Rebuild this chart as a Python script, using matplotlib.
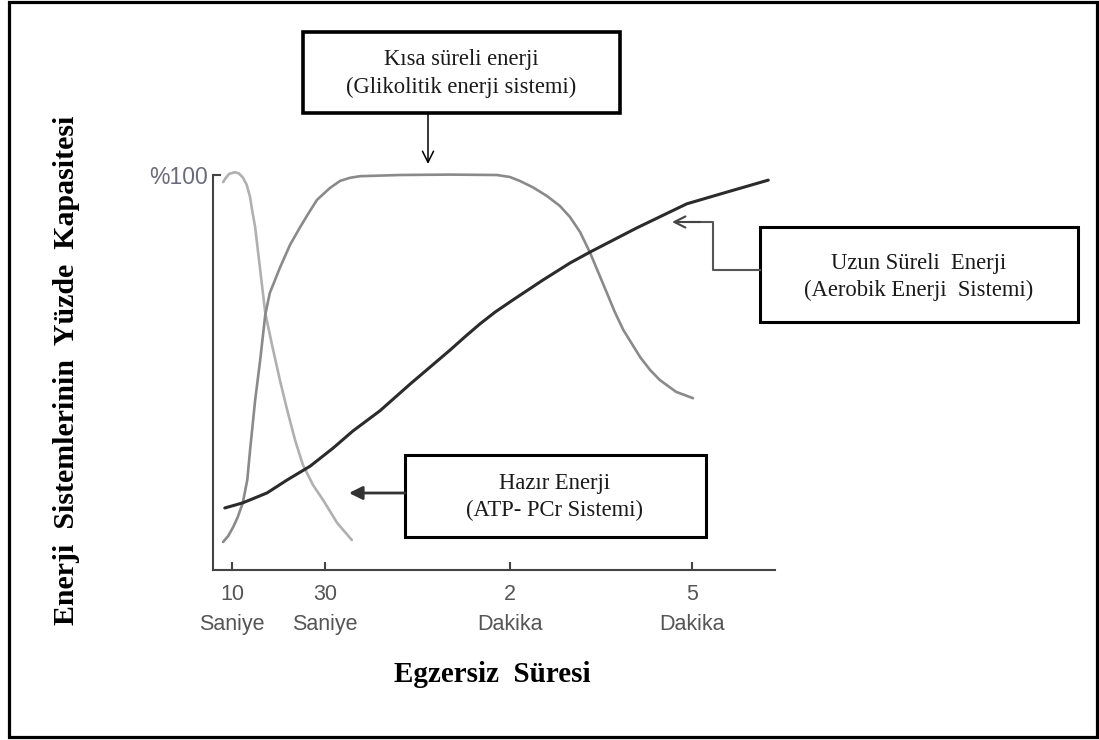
import matplotlib
matplotlib.use('Agg')
import matplotlib.pyplot as plt
from matplotlib.patches import Rectangle

# x: zaman ekseni boyunca konum (0-100), y: yuzde kapasite
atp_x = [1.8, 2.3, 2.9, 3.9, 4.6, 5.3, 6.0, 6.6, 6.9, 7.5, 8.4, 9.3, 10.5, 11.9, 13.2, 14.6, 16.0, 17.8, 19.6, 22.1, 24.7]
atp_y = [98.2, 99.3, 100.3, 100.7, 100.4, 99.4, 97.5, 94.4, 91.6, 86.8, 75.9, 65.1, 57.0, 48.1, 40.5, 32.9, 26.6, 21.5, 17.7, 11.9, 7.6]

gli_x = [1.8, 2.7, 3.6, 4.4, 5.3, 6.1, 6.6, 7.5, 8.4, 9.3, 10.1, 11.9, 13.7, 15.5, 16.9, 18.5, 20.8, 22.6, 24.4,
         26.2, 33.3, 42.2, 50.5, 52.8, 54.6, 56.9, 59.4, 61.7, 63.5, 65.3, 67.1, 70.1, 71.5, 73.0, 76.0, 77.8,
         79.5, 82.4, 85.4]
gli_y = [7.1, 8.6, 10.9, 13.4, 17.0, 22.8, 30.4, 43.0, 53.2, 64.6, 70.1, 76.5, 82.3, 86.8, 90.1, 93.7, 96.7, 98.5, 99.3,
         99.7, 100.0, 100.1, 100.0, 99.5, 98.5, 96.9, 94.7, 92.2, 89.4, 85.6, 80.3, 70.1, 65.3, 60.8, 53.9, 50.6,
         48.1, 45.1, 43.5]

aer_x = [2.1, 5.3, 9.6, 13.2, 17.3, 21.4, 24.9, 29.7, 35.1, 42.2, 44.8, 47.5, 50.2, 53.4, 58.7, 63.5, 67.1, 75.4,
         84.3, 91.5, 98.8]
aer_y = [15.7, 17.0, 19.5, 22.8, 26.3, 30.9, 35.2, 40.3, 47.1, 55.7, 59.0, 62.3, 65.3, 68.4, 73.4, 77.7, 80.5, 86.6,
         92.7, 95.7, 98.7]

tick_pos = [3.4, 19.9, 52.8, 85.2]
tick_lab = ['10\nSaniye', '30\nSaniye', '2\nDakika', '5\nDakika']

serif = 'Liberation Serif'
sans = 'Liberation Sans'

fig = plt.figure(figsize=(10.99, 7.40), dpi=100)
ax = fig.add_axes([213 / 1099, 1 - 570 / 740, 562 / 1099, 395 / 740])

ax.plot(atp_x, atp_y, color='#b0b0b0', lw=1.9, solid_capstyle='round', solid_joinstyle='round', clip_on=False)
ax.plot(gli_x, gli_y, color='#8a8a8a', lw=1.9, solid_capstyle='round', solid_joinstyle='round', clip_on=False)
ax.plot(aer_x, aer_y, color='#2b2b2b', lw=2.2, solid_capstyle='round', solid_joinstyle='round', clip_on=False)

ax.set_xlim(0, 100)
ax.set_ylim(0, 100)
for s in ['top', 'right']:
    ax.spines[s].set_visible(False)
for s in ['left', 'bottom']:
    ax.spines[s].set_color('#444444')
    ax.spines[s].set_linewidth(1.5)

ax.set_xticks(tick_pos)
ax.set_xticklabels(tick_lab, fontfamily=sans, fontsize=15.5, color='#555555', linespacing=1.6)
ax.set_yticks([100])
ax.set_yticklabels(['%100'], fontfamily=sans, fontsize=16.5, color='#6a6a7a')
ax.tick_params(axis='x', direction='in', length=6, width=1.5, color='#444444', pad=10)
ax.tick_params(axis='y', direction='in', length=6, width=1.5, color='#444444', pad=4)
ax.patch.set_alpha(0)

fig.text(67 / 1099, 1 - 370 / 740, 'Enerji  Sistemlerinin  Yüzde  Kapasitesi', rotation=90,
         ha='center', va='center', fontfamily=serif, fontweight='bold', fontsize=21.5)
fig.text(492 / 1099, 1 - 674 / 740, 'Egzersiz  Süresi', ha='center', va='center',
         fontfamily=serif, fontweight='bold', fontsize=21)

# pikselle calisan ust katman: kutular, oklar, cerceve
ov = fig.add_axes([0, 0, 1, 1])
ov.set_xlim(0, 1099)
ov.set_ylim(740, 0)
ov.axis('off')
ov.patch.set_alpha(0)

ov.add_patch(Rectangle((8.5, 1.5), 1088, 735, fill=False, ec='black', lw=2.3, clip_on=False))

boxes = [
    ((303, 32, 317, 81), 2.6, 461, 60, 87, 'Kısa süreli enerji', '(Glikolitik enerji sistemi)'),
    ((760, 227, 318, 95), 2.2, 919, 263, 290, 'Uzun Süreli  Enerji', '(Aerobik Enerji  Sistemi)'),
    ((405, 455, 301, 82), 2.2, 555, 483, 510, 'Hazır Enerji', '(ATP- PCr Sistemi)'),
]
for (x0, y0, w, h), lw, cx, ty1, ty2, l1, l2 in boxes:
    ov.add_patch(Rectangle((x0, y0), w, h, fill=False, ec='black', lw=lw))
    ov.text(cx, ty1, l1, ha='center', va='center', fontfamily=serif, fontsize=16.3, color='#1a1a1a')
    ov.text(cx, ty2, l2, ha='center', va='center', fontfamily=serif, fontsize=16.3, color='#1a1a1a')

ov.annotate('', xy=(428, 164), xytext=(428, 113),
            arrowprops=dict(arrowstyle='->', lw=1.1, color='black', mutation_scale=20,
                            shrinkA=0, shrinkB=0))
ov.plot([760, 713, 713, 690], [270, 270, 222, 222], color='#555555', lw=1.5)
ov.annotate('', xy=(672, 222), xytext=(700, 222),
            arrowprops=dict(arrowstyle='->', lw=1.5, color='#444444', mutation_scale=20,
                            shrinkA=0, shrinkB=0))
ov.annotate('', xy=(349, 493), xytext=(405, 493),
            arrowprops=dict(arrowstyle='-|>', lw=2.0, color='#333333', mutation_scale=20,
                            shrinkA=0, shrinkB=0))

fig.savefig('out.png', dpi=100)
